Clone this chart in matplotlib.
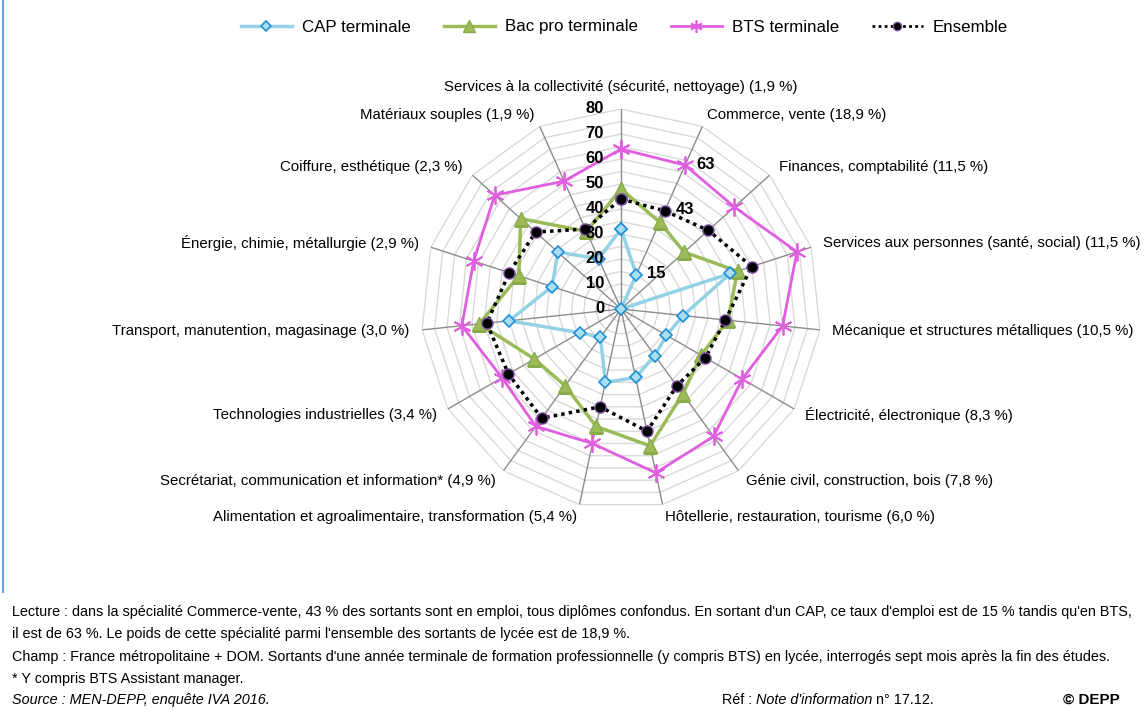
import numpy as np
import matplotlib
matplotlib.use("Agg")
import matplotlib.pyplot as plt
from matplotlib.transforms import offset_copy
from matplotlib.lines import Line2D

plt.rcParams['font.family'] = ['Liberation Sans', 'DejaVu Sans']

# specialites (sens horaire depuis le haut)
categories = [
    "Services à la collectivité (sécurité, nettoyage) (1,9 %)",
    "Commerce, vente (18,9 %)",
    "Finances, comptabilité (11,5 %)",
    "Services aux personnes (santé, social) (11,5 %)",
    "Mécanique et structures métalliques (10,5 %)",
    "Électricité, électronique (8,3 %)",
    "Génie civil, construction, bois (7,8 %)",
    "Hôtellerie, restauration, tourisme (6,0 %)",
    "Alimentation et agroalimentaire, transformation (5,4 %)",
    "Secrétariat, communication et information* (4,9 %)",
    "Technologies industrielles (3,4 %)",
    "Transport, manutention, magasinage (3,0 %)",
    "Énergie, chimie, métallurgie (2,9 %)",
    "Coiffure, esthétique (2,3 %)",
    "Matériaux souples (1,9 %)",
]

cap = [32, 15, 0, 46, 25, 21, 23, 28, 30, 14, 19, 45, 29, 34, 22]
bacpro = [48, 38, 34, 49, 43, 37, 42, 56, 48, 38, 40, 57, 43, 54, 34]
bts = [64, 63, 61, 74, 65, 56, 63, 67, 55, 58, 55, 64, 62, 68, 56]
ensemble = [44, 43, 47, 55, 42, 39, 38, 50, 40, 54, 52, 54, 47, 46, 35]

rticks = [0, 10, 20, 30, 40, 50, 60, 70, 80]
rmax = 80

n = len(categories)
theta = np.linspace(0, 2 * np.pi, n, endpoint=False)
tclose = np.append(theta, theta[0])

def closed(v):
    return np.append(v, v[0])

fig = plt.figure(figsize=(11.46, 7.11), dpi=100)
ax = fig.add_axes([0.3674, 0.2841, 0.349, 0.5626], projection='polar')
ax.set_theta_zero_location('N')
ax.set_theta_direction(-1)
ax.set_ylim(0, rmax)
ax.grid(False)
ax.spines['polar'].set_visible(False)
ax.set_xticks([])
ax.set_yticks([])
ax.patch.set_alpha(0)

# grille polygonale tous les 5
for r in range(5, rmax + 1, 5):
    ax.plot(tclose, [r] * (n + 1), color='#d9d9d9', lw=1, zorder=1)
for t in theta:
    ax.plot([t, t], [0, rmax], color='#8c8c8c', lw=1, zorder=2)

# series
ax.plot(tclose, closed(cap), color='#93d2e4', lw=2.5, marker='D', ms=6,
        mfc='#a9def0', mec='#1f8fd6', mew=1.2, zorder=5)
ax.plot(tclose, closed(bacpro), color='#9bbb59', lw=2.5, marker='^', ms=10,
        mfc='#9bbb59', mec='#8aab4a', zorder=4)
ax.plot(tclose, closed(bts), color='#df5fdf', lw=2, marker=(6, 2, 0), ms=13,
        mew=1.3, zorder=3)
ax.plot(tclose, closed(ensemble), color='black', lw=2.5, ls=(0, (1, 1.2)),
        marker='o', ms=8, mfc='black', mec='#7d4ea5', mew=1, zorder=6)

# etiquettes radiales
lab_tr = offset_copy(ax.transData, fig=fig, x=-17, y=1, units='dots')
for r in rticks:
    ax.text(0, r, str(r), transform=lab_tr, ha='right', va='center',
            fontsize=12, fontweight='bold', zorder=7)

# valeurs Commerce, vente
val_tr = offset_copy(ax.transData, fig=fig, x=11, y=1, units='dots')
for v in (bts[1], ensemble[1], cap[1]):
    ax.text(theta[1], v, str(v), transform=val_tr, ha='left', va='center',
            fontsize=12, fontweight='bold', zorder=7)

# etiquettes des categories
for i, (t, lab) in enumerate(zip(theta, categories)):
    if i == 0:
        ax.text(t, 89, lab, ha='center', va='center', fontsize=10.8, clip_on=False)
    else:
        ha = 'left' if t < np.pi else 'right'
        ax.text(t, 85, lab, ha=ha, va='center', fontsize=10.8, clip_on=False)

# legende
handles = [
    Line2D([], [], color='#93d2e4', lw=2.5, marker='D', ms=5, mfc='#a9def0',
           mec='#1f8fd6', mew=1.2),
    Line2D([], [], color='#9bbb59', lw=2.5, marker='^', ms=8, mfc='#9bbb59',
           mec='#8aab4a'),
    Line2D([], [], color='#df5fdf', lw=2, marker=(6, 2, 0), ms=9, mew=1.2),
    Line2D([], [], color='black', lw=2, ls=(0, (1, 1.2)), marker='o', ms=6,
           mfc='black', mec='#7d4ea5'),
]
names = ["CAP terminale", "Bac pro terminale", "BTS terminale", "Ensemble"]
fig.legend(handles, names, loc='center', bbox_to_anchor=(0.545, 1 - 27 / 711),
           ncol=4, frameon=False, fontsize=12.2, handlelength=3.0,
           columnspacing=1.95, handletextpad=0.6)

# filet bleu a gauche
fig.add_artist(Line2D([2.5 / 1146, 2.5 / 1146], [1, 1 - 592 / 711],
                      transform=fig.transFigure, color='#5ea6ec', lw=1.5))

# notes
note = ['Liberation Sans', 'DejaVu Sans']
x0 = 12 / 1146
fs = 10.4
fig.text(x0, 1 - 612 / 711, "Lecture : dans la spécialité Commerce-vente, 43 % des sortants sont en emploi, "
         "tous diplômes confondus. En sortant d'un CAP, ce taux d'emploi est de 15 % tandis qu'en BTS,",
         family=note, fontsize=fs, va='center')
fig.text(x0, 1 - 634 / 711, "il est de 63 %. Le poids de cette spécialité parmi l'ensemble des sortants "
         "de lycée est de 18,9 %.", family=note, fontsize=fs, va='center')
fig.text(x0, 1 - 657 / 711, "Champ : France métropolitaine + DOM. Sortants d'une année terminale de formation "
         "professionnelle (y compris BTS) en lycée, interrogés sept mois après la fin des études.",
         family=note, fontsize=fs, va='center')
fig.text(x0, 1 - 679 / 711, "* Y compris BTS Assistant manager.", family=note, fontsize=fs, va='center')
fig.text(x0, 1 - 700 / 711, "Source : MEN-DEPP, enquête IVA 2016.", family=note, fontsize=fs,
         style='italic', va='center')
t1 = fig.text(722 / 1146, 1 - 700 / 711, "Réf : ", family=note, fontsize=fs, va='center')
t2 = fig.text(0, 1 - 700 / 711, "Note d'information", family=note, fontsize=fs, style='italic', va='center')
t3 = fig.text(0, 1 - 700 / 711, " n° 17.12.", family=note, fontsize=fs, va='center')
fig.canvas.draw()
r = fig.canvas.get_renderer()
b1 = t1.get_window_extent(r)
t2.set_x(b1.x1 / fig.bbox.width)
b2 = t2.get_window_extent(r)
t3.set_x(b2.x1 / fig.bbox.width)
fig.text(1063 / 1146, 1 - 700 / 711, "© DEPP", family=note, fontsize=fs + 0.5,
         fontweight='bold', va='center')

fig.savefig('out.png', dpi=100)
